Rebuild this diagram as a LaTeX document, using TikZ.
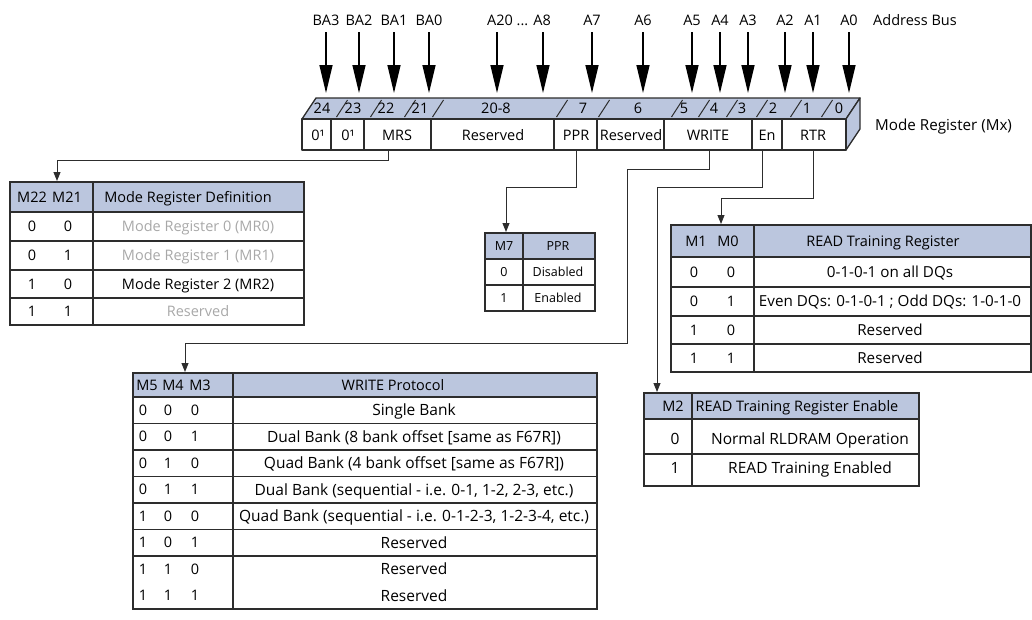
\documentclass[tikz,border=0pt]{standalone}
\usepackage{fontspec}
\setmainfont{Open Sans}
\usetikzlibrary{arrows.meta}
\definecolor{hdr}{RGB}{187,198,222}
\definecolor{gtext}{RGB}{168,168,168}
\definecolor{ln}{RGB}{45,45,45}
\begin{document}
\begin{tikzpicture}[x=1pt,y=-1pt,
  tx/.style={text height=10.3pt,text depth=0pt,inner sep=0pt,anchor=center,font=\fontsize{14.5}{16}\selectfont},
  txm/.style={tx,text height=10.7pt,font=\fontsize{15.2}{17}\selectfont},
  txb/.style={tx,text height=11pt,font=\fontsize{15.5}{17}\selectfont},
  txs/.style={tx,text height=8.9pt,font=\fontsize{12.5}{14}\selectfont},
  gry/.style={text=gtext},
  bigarr/.style={line width=1.4pt,-{Triangle[length=28pt,width=13pt]}},
  conn/.style={line width=1pt,draw=ln,-{Triangle[length=9pt,width=7pt]}},
  tl/.style={line width=1.1pt,draw=ln},
  rl/.style={line width=1.3pt,draw=ln,line join=round}]
\useasboundingbox (0,0) rectangle (1032,619);

% ---------- address bus labels and arrows ----------
\foreach \n/\x in {BA3/326,BA2/359,BA1/394,BA0/429,A7/592,A6/643,A5/692,A4/720,A3/748,A2/785,A1/813,A0/849}{
  \node[tx] (t\n) at (\x,20) {\n};
  \coordinate (h\n) at (\x,93);
  \draw[bigarr,shorten <=7pt] (t\n.south) -- (h\n);
}
\node[tx] (tA20) at (519,20) {A20 ... A8};
\coordinate (hA20) at (497,93);
\coordinate (hA8) at (543,93);
\draw[bigarr,shorten <=7pt] (tA20.south -| hA20) -- (hA20);
\draw[bigarr,shorten <=7pt] (tA20.south -| hA8) -- (hA8);
\node[tx,anchor=west] (abus) at (873,20) {Address Bus};

% ---------- mode register box ----------
\filldraw[rl,fill=hdr] (302,119) -- (316,98) -- (860,98) -- (846,119) -- cycle;
\filldraw[rl,fill=hdr] (846,119) -- (860,98) -- (860,129) -- (846,150) -- cycle;
\filldraw[rl,fill=white] (302,119) rectangle (846,150);
\foreach \m in {342,376,410,438,562,604,677,704,732,762,796,827}
  \draw[line width=1pt,draw=ln] (\m-5.5,117) -- (\m+5.5,100);
\foreach \b/\x in {24/322,23/353,22/386,21/420,20-8/496,7/583,6/638,5/684,4/714,3/742,2/773,1/807,0/839}
  \node[tx] (b\b) at (\x,108.5) {\b};
\foreach \x in {331,364,431,554,597,664,752,782}
  \draw[tl] (\x,119) -- (\x,150);
\node[tx] (f24) at (318,135) {0¹};
\node[tx] (f23) at (348,135) {0¹};
\node[tx] (fMRS) at (397,135) {MRS};
\node[tx] (fRes) at (493,135) {Reserved};
\node[tx] (fPPR) at (576,135) {PPR};
\node[tx] (fRes2) at (631,135) {Reserved};
\node[tx] (fWR) at (708,135) {WRITE};
\node[tx] (fEn) at (767,135) {En};
\node[tx] (fRTR) at (813,135) {RTR};
\node[txm,anchor=west] (mreg) at (875,125) {Mode Register (Mx)};

% ---------- MRS table ----------
\fill[hdr] (10,182) rectangle (304,212);
\draw[tl] (10,182) rectangle (304,325);
\foreach \y in {212,241,270,298} \draw[tl] (10,\y) -- (304,\y);
\draw[tl] (93,182) -- (93,325);
\node[tx] (m22) at (32,197) {M22};
\node[tx] (m21) at (67,197) {M21};
\node[tx] (mrsh) at (188,197) {Mode Register Definition};
\foreach \a/\b/\t/\s/\y in {0/0/Mode Register 0 (MR0)/gry/226.5,0/1/Mode Register 1 (MR1)/gry/255.5,1/0/Mode Register 2 (MR2)/tx/284,1/1/Reserved/gry/311.5}{
  \node[tx] at (32,\y) {\a};
  \node[tx] at (68,\y) {\b};
  \node[tx,\s] at (198,\y) {\t};
}
\coordinate (mrsTop) at (57,181);
\coordinate (mrsBend) at (57,160);
\coordinate (mrsOut) at (388,150);
\draw[conn] (mrsOut) |- (mrsBend) -- (mrsTop);

% ---------- PPR table ----------
\fill[hdr] (485,233) rectangle (595,259);
\draw[tl] (485,233) rectangle (595,311);
\foreach \y in {259,285} \draw[tl] (485,\y) -- (595,\y);
\draw[tl] (523,233) -- (523,311);
\node[txs] (m7) at (504,246.5) {M7};
\node[txs] (pprh) at (558,246.5) {PPR};
\node[txs] at (504,272) {0};
\node[txs] at (558,272) {Disabled};
\node[txs] at (504,298) {1};
\node[txs] at (558,298) {Enabled};
\coordinate (pprOut) at (576,150);
\coordinate (pprBend) at (506,187);
\coordinate (pprTop) at (506,232);
\draw[conn] (pprOut) |- (pprBend) -- (pprTop);

% ---------- RTR table ----------
\fill[hdr] (671,225) rectangle (1031,257);
\draw[tl] (671,225) rectangle (1031,372);
\foreach \y in {257,287,316,344} \draw[tl] (671,\y) -- (1031,\y);
\draw[tl] (754,225) -- (754,372);
\node[tx] (m1) at (696,241) {M1};
\node[tx] (m0) at (728,241) {M0};
\node[tx] (rtrh) at (883,241) {READ Training Register};
\foreach \a/\b/\t/\y in {0/0/0-1-0-1 on all DQs/272,0/1/Even DQs: 0-1-0-1 ; Odd DQs: 1-0-1-0/301.5,1/0/Reserved/330,1/1/Reserved/358}{
  \node[tx] at (694,\y) {\a};
  \node[tx] at (731,\y) {\b};
  \node[txm] at (890,\y) {\t};
}
\coordinate (rtrOut) at (813,150);
\coordinate (rtrBend) at (721,198);
\coordinate (rtrTop) at (721,224);
\draw[conn] (rtrOut) |- (rtrBend) -- (rtrTop);

% ---------- M2 table ----------
\fill[hdr] (644,393) rectangle (919,419);
\draw[tl] (644,393) rectangle (919,486);
\foreach \y in {419,454} \draw[tl] (644,\y) -- (919,\y);
\draw[tl] (692,393) -- (692,486);
\node[tx] (m2) at (673,406) {M2};
\node[tx] (enh) at (797,406) {READ Training Register Enable};
\node[txb] at (675,439) {0};
\node[txb] at (810,439) {Normal RLDRAM Operation};
\node[txb] at (675,468) {1};
\node[txb] at (810,468) {READ Training Enabled};
\coordinate (enOut) at (762,150);
\coordinate (enBend) at (657,187);
\coordinate (enTop) at (657,392);
\draw[conn] (enOut) |- (enBend) -- (enTop);

% ---------- WRITE table ----------
\fill[hdr] (133,373) rectangle (597,397);
\draw[tl] (133,373) rectangle (597,609);
\foreach \k in {0,...,6} \draw[tl] (133,{397+26.5*\k}) -- (597,{397+26.5*\k});
\draw[tl] (233,373) -- (233,609);
\node[tx] (m5) at (147,385) {M5};
\node[tx] (m4) at (173,385) {M4};
\node[tx] (m3) at (200,385) {M3};
\node[tx] (wrh) at (393,385) {WRITE Protocol};
\foreach \a/\b/\c/\t [count=\k from 0] in {0/0/0/Single Bank,0/0/1/Dual Bank (8 bank offset [same as F67R]),0/1/0/Quad Bank (4 bank offset [same as F67R]),0/1/1/Dual Bank (sequential - i.e. 0-1{,} 1-2{,} 2-3{,} etc.),1/0/0/Quad Bank (sequential - i.e. 0-1-2-3{,} 1-2-3-4{,} etc.),1/0/1/Reserved,1/1/0/Reserved,1/1/1/Reserved}{
  \node[tx] at (143,{410.25+26.5*\k}) {\a};
  \node[tx] at (168,{410.25+26.5*\k}) {\b};
  \node[tx] at (195,{410.25+26.5*\k}) {\c};
  \node[txb] at (414,{410.25+26.5*\k}) {\t};
}
\coordinate (wrOut) at (709,150);
\coordinate (wrBend1) at (627,169);
\coordinate (wrBend2) at (185,343);
\coordinate (wrTop) at (185,372);
\draw[conn] (wrOut) |- (wrBend1) |- (wrBend2) -- (wrTop);
\end{tikzpicture}
\end{document}
